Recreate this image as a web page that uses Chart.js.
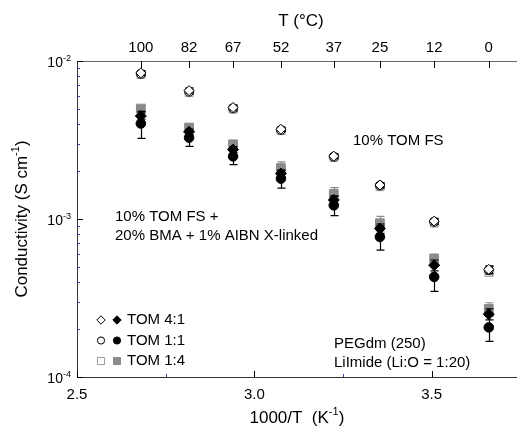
<!DOCTYPE html>
<html>
<head>
<meta charset="utf-8">
<script src="https://cdn.jsdelivr.net/npm/chart.js@4.4.0/dist/chart.umd.min.js"></script>
<style>
  html, body { margin: 0; padding: 0; background: #fff; }
  canvas { display: block; }
</style>
</head>
<body>
<canvas id="condChart" width="524" height="434"></canvas>
<script>
// measurement temperatures (top axis) and their 1000/T positions
const tempC = [100, 82, 67, 52, 37, 25, 12, 0];
const invT = [2.680, 2.816, 2.940, 3.075, 3.224, 3.354, 3.507, 3.661];

// 10% TOM FS (open symbols)
const fsTom41 = [8.4e-3, 6.5e-3, 5.08e-3, 3.70e-3, 2.50e-3, 1.64e-3, 9.7e-4, 4.8e-4];
const fsTom11 = [8.3e-3, 6.4e-3, 5.02e-3, 3.66e-3, 2.48e-3, 1.63e-3, 9.6e-4, 4.75e-4];
const fsTom14 = [8.2e-3, 6.3e-3, 4.95e-3, 3.62e-3, 2.45e-3, 1.60e-3, 9.4e-4, 4.6e-4];
const fsErr41 = [3e-4, 2.5e-4, 2e-4, 1.2e-4, 8e-5, 6e-5, 4e-5, 2.5e-5];
const fsErr11 = [3e-4, 2.5e-4, 2e-4, 1.2e-4, 8e-5, 6e-5, 4e-5, 2.5e-5];
const fsErr14 = [3e-4, 2.5e-4, 2e-4, 1.2e-4, 8e-5, 6e-5, 4e-5, 2.5e-5];

// 10% TOM FS + 20% BMA + 1% AIBN X-linked (filled symbols)
const xlTom41 = [4.48e-3, 3.56e-3, 2.75e-3, 1.94e-3, 1.32e-3, 8.7e-4, 5.1e-4, 2.5e-4];
const xlTom11 = [4.02e-3, 3.27e-3, 2.49e-3, 1.80e-3, 1.22e-3, 7.7e-4, 4.3e-4, 2.06e-4];
const xlTom14 = [5.00e-3, 3.79e-3, 2.97e-3, 2.10e-3, 1.44e-3, 9.4e-4, 5.6e-4, 2.7e-4];
const xlErr41 = [2e-4, 1.5e-4, 1.2e-4, 1e-4, 8e-5, 6e-5, 4e-5, 2e-5];
const xlErr11 = [7.8e-4, 3.9e-4, 2.8e-4, 2.3e-4, 1.7e-4, 1.34e-4, 8.2e-5, 3.8e-5];
const xlErr14 = [2e-4, 1.8e-4, 1.6e-4, 2e-4, 1.4e-4, 1e-4, 4e-5, 2.5e-5];

// axis ticks
const xMajor = [2.5, 3.0, 3.5];
const xMinor = [2.75, 3.25];
const yMajor = [1e-4, 1e-3, 1e-2];
const yMinor = [2e-4, 3e-4, 4e-4, 5e-4, 6e-4, 7e-4, 8e-4, 9e-4,
                2e-3, 3e-3, 4e-3, 5e-3, 6e-3, 7e-3, 8e-3, 9e-3];

const FONT = "'Liberation Sans', Arial, sans-serif";
const GREY = '#8a8a8a';

function pts(ys) { return ys.map((v, i) => ({ x: invT[i], y: v })); }

function supText(ctx, parts, x, y, size, align) {
  // parts: [text, isSup]
  let w = 0;
  parts.forEach(p => {
    ctx.font = (p[1] ? size * 0.65 : size) + 'px ' + FONT;
    w += ctx.measureText(p[0]).width;
  });
  let cx = align === 'center' ? x - w / 2 : (align === 'right' ? x - w : x);
  ctx.textAlign = 'left';
  ctx.textBaseline = 'middle';
  parts.forEach(p => {
    ctx.font = (p[1] ? size * 0.65 : size) + 'px ' + FONT;
    ctx.fillText(p[0], cx, p[1] ? y - size * 0.35 : y);
    cx += ctx.measureText(p[0]).width;
  });
}

const decor = {
  id: 'decor',
  beforeDatasetDraw(chart, args) {
    const ds = chart.data.datasets[args.index];
    if (!ds.errors) return;
    const { ctx } = chart;
    const xs = chart.scales.x, ys = chart.scales.y;
    ctx.save();
    ctx.strokeStyle = ds.errColor;
    ctx.lineWidth = 1.2;
    ds.data.forEach((p, i) => {
      const e = ds.errors[i];
      const px = Math.round(xs.getPixelForValue(p.x)) + 0.5;
      const yt = ys.getPixelForValue(p.y + e);
      const yb = ys.getPixelForValue(p.y - e);
      ctx.beginPath();
      ctx.moveTo(px, yt); ctx.lineTo(px, yb);
      ctx.moveTo(px - 4, yt); ctx.lineTo(px + 4, yt);
      ctx.moveTo(px - 4, yb); ctx.lineTo(px + 4, yb);
      ctx.stroke();
    });
    ctx.restore();
  },
  afterDraw(chart) {
    const { ctx, chartArea: a } = chart;
    const xs = chart.scales.x, ys = chart.scales.y, xt = chart.scales.xTop;
    ctx.save();
    ctx.lineWidth = 1;

    // inward tick marks
    const tick = (x1, y1, x2, y2, col) => {
      ctx.strokeStyle = col;
      ctx.beginPath(); ctx.moveTo(x1, y1); ctx.lineTo(x2, y2); ctx.stroke();
    };
    xMajor.forEach(v => { const px = Math.round(xs.getPixelForValue(v)) + 0.5; tick(px, a.bottom, px, a.bottom - 6, '#000'); });
    xMinor.forEach(v => { const px = Math.round(xs.getPixelForValue(v)) + 0.5; tick(px, a.bottom, px, a.bottom - 3, '#3a3aa0'); });
    xt.ticks.forEach(t => { const px = Math.round(xt.getPixelForValue(t.value)) + 0.5; tick(px, a.top, px, a.top + 7, '#000'); });
    yMajor.forEach(v => { const py = Math.round(ys.getPixelForValue(v)) + 0.5; tick(a.left, py, a.left + 6, py, '#000'); });
    yMinor.forEach(v => { const py = Math.round(ys.getPixelForValue(v)) + 0.5; tick(a.left, py, a.left + 3, py, '#3a3aa0'); });

    // y tick labels 10^n
    ctx.fillStyle = '#000';
    yMajor.forEach(v => {
      const py = ys.getPixelForValue(v);
      supText(ctx, [['10', false], ['' + Math.round(Math.log10(v)), true]], 71, py + 2, 14, 'right');
    });

    // axis titles
    const mid = (a.left + a.right) / 2;
    supText(ctx, [['1000/T  (K', false], ['-1', true], [')', false]], mid, 418, 17, 'center');
    supText(ctx, [['T (\u00B0C)', false]], mid + 4, 21, 17, 'center');
    ctx.save();
    ctx.translate(22, (a.top + a.bottom) / 2);
    ctx.rotate(-Math.PI / 2);
    supText(ctx, [['Conductivity (S cm', false], ['-1', true], [')', false]], 0, 0, 17, 'center');
    ctx.restore();

    // annotations
    ctx.fillStyle = '#000';
    ctx.font = '15px ' + FONT;
    ctx.textAlign = 'left';
    ctx.textBaseline = 'middle';
    ctx.fillText('10% TOM FS', 353, 141);
    ctx.fillText('10% TOM FS +', 115, 217);
    ctx.fillText('20% BMA + 1% AIBN X-linked', 115, 236);
    ctx.fillText('PEGdm (250)', 334, 344);
    ctx.fillText('LiImide (Li:O = 1:20)', 334, 363);

    // legend: open / filled pair + text
    const rows = [
      ['rectRot', 4.2, '#000', '#000', 'TOM 4:1'],
      ['circle', 3.6, '#000', '#000', 'TOM 1:1'],
      ['rect', 5, '#999', GREY, 'TOM 1:4']
    ];
    rows.forEach((r, i) => {
      const y = 320 + i * 20.5;
      ctx.lineWidth = 1;
      ctx.strokeStyle = r[2]; ctx.fillStyle = '#fff';
      Chart.helpers.drawPoint(ctx, { pointStyle: r[0], radius: r[1], rotation: 0, borderWidth: 1 }, 101, y);
      ctx.strokeStyle = r[3]; ctx.fillStyle = r[3];
      Chart.helpers.drawPoint(ctx, { pointStyle: r[0], radius: r[1], rotation: 0, borderWidth: 1 }, 117, y);
      ctx.fillStyle = '#000';
      ctx.font = '15px ' + FONT;
      ctx.textAlign = 'left';
      ctx.textBaseline = 'middle';
      ctx.fillText(r[4], 127, y);
    });
    ctx.restore();
  }
};

const ctx = document.getElementById('condChart').getContext('2d');

const condChart = new Chart(ctx, {
  type: 'scatter',
  data: {
    datasets: [
      { label: 'X-linked TOM 1:1', data: pts(xlTom11), errors: xlErr11, errColor: '#000',
        pointStyle: 'circle', pointRadius: 4.8, backgroundColor: '#000', borderColor: '#000', borderWidth: 1 },
      { label: 'X-linked TOM 4:1', data: pts(xlTom41), errors: xlErr41, errColor: '#000',
        pointStyle: 'rectRot', pointRadius: 5.5, backgroundColor: '#000', borderColor: '#000', borderWidth: 1 },
      { label: 'FS TOM 4:1', data: pts(fsTom41), errors: fsErr41, errColor: '#000',
        pointStyle: 'rectRot', pointRadius: 5, backgroundColor: '#fff', borderColor: '#000', borderWidth: 1 },
      { label: 'FS TOM 1:1', data: pts(fsTom11), errors: fsErr11, errColor: '#000',
        pointStyle: 'circle', pointRadius: 4.5, backgroundColor: '#fff', borderColor: '#000', borderWidth: 1 },
      { label: 'FS TOM 1:4', data: pts(fsTom14), errors: fsErr14, errColor: '#999',
        pointStyle: 'rect', pointRadius: 5.5, backgroundColor: '#fff', borderColor: '#999', borderWidth: 1 },
      { label: 'X-linked TOM 1:4', data: pts(xlTom14), errors: xlErr14, errColor: GREY,
        pointStyle: 'rect', pointRadius: 6.2, backgroundColor: GREY, borderColor: GREY, borderWidth: 1 }
    ]
  },
  options: {
    responsive: false,
    animation: false,
    layout: { padding: 0 },
    plugins: { legend: { display: false }, tooltip: { enabled: false } },
    scales: {
      x: {
        type: 'linear', position: 'bottom', min: 2.5, max: 3.74,
        afterBuildTicks: s => { s.ticks = xMajor.map(v => ({ value: v })); },
        afterFit: s => { s.height = 57; },
        grid: { display: false, drawTicks: false },
        border: { display: true, color: '#333', width: 1 },
        ticks: { autoSkip: false, padding: 9, color: '#000', font: { family: FONT, size: 15 },
                 callback: v => v.toFixed(1) }
      },
      xTop: {
        type: 'linear', position: 'top', min: 2.5, max: 3.74,
        afterBuildTicks: s => { s.ticks = tempC.map(t => ({ value: 1000 / (t + 273.15) })); },
        afterFit: s => { s.height = 61; },
        grid: { display: false, drawTicks: false },
        border: { display: true, color: '#666', width: 1 },
        ticks: { autoSkip: false, padding: 4, maxRotation: 0, color: '#000', font: { family: FONT, size: 15 },
                 callback: (v, i) => '' + tempC[i] }
      },
      y: {
        type: 'logarithmic', min: 1e-4, max: 1e-2,
        afterBuildTicks: s => { s.ticks = yMajor.concat(yMinor).map(v => ({ value: v })); },
        afterFit: s => { s.width = 77; },
        grid: { display: false, drawTicks: false },
        border: { display: true, color: '#333', width: 1 },
        ticks: { display: false }
      }
    }
  },
  plugins: [decor]
});
</script>
</body>
</html>
